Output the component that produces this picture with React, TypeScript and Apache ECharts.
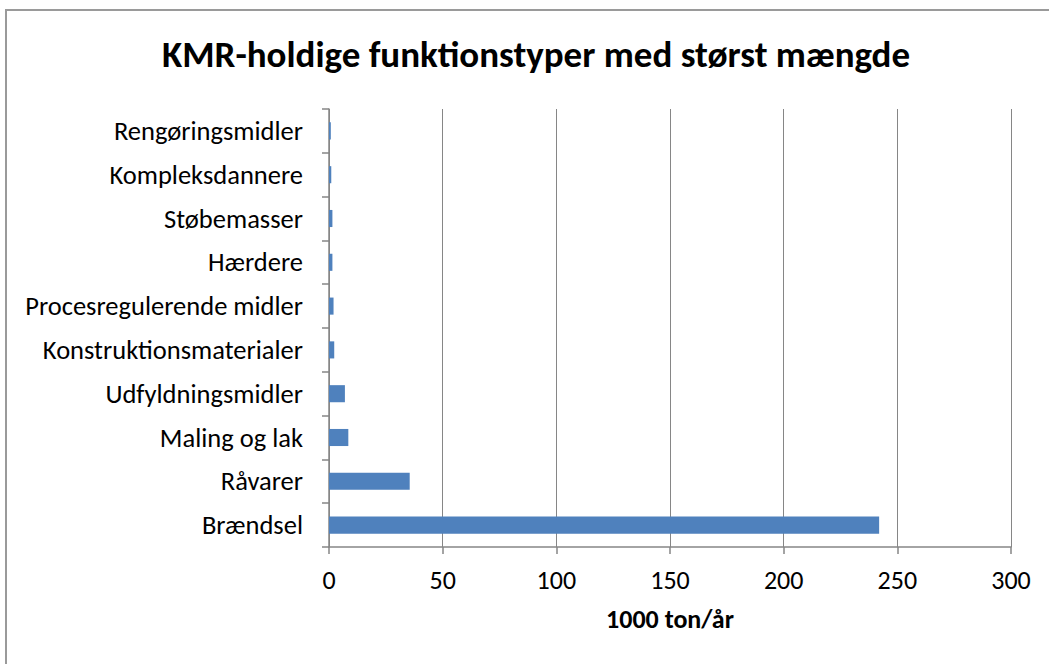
import React, { useEffect, useRef } from "react";
import * as echarts from "echarts";

const categories = [
  "Brændsel",
  "Råvarer",
  "Maling og lak",
  "Udfyldningsmidler",
  "Konstruktionsmaterialer",
  "Procesregulerende midler",
  "Hærdere",
  "Støbemasser",
  "Kompleksdannere",
  "Rengøringsmidler",
];
const values = [242, 35.5, 8.5, 7.0, 2.3, 2.0, 1.5, 1.5, 1.0, 0.8];
const title = "KMR-holdige funktionstyper med størst mængde";
const xName = "1000 ton/år";

export default function App() {
  const ref = useRef<HTMLDivElement>(null);
  useEffect(() => {
    const chart = echarts.init(ref.current!, null, { renderer: "svg" });
    const font = "Carlito, Lato, 'Open Sans', sans-serif";
    chart.setOption({
      animation: false,
      backgroundColor: "transparent",
      title: {
        text: title,
        left: 157,
        top: 31,
        textStyle: { fontFamily: font, fontSize: 37, fontWeight: "bold", color: "#000" },
      },
      grid: { left: 329, right: 38, top: 109, bottom: 117 },
      xAxis: {
        type: "value",
        min: 0,
        max: 300,
        interval: 50,
        name: xName,
        nameLocation: "middle",
        nameGap: 59,
        nameTextStyle: { fontFamily: font, fontSize: 26, fontWeight: "bold", color: "#000" },
        axisLine: { show: true, lineStyle: { color: "#868686", width: 1.5 } },
        axisTick: { show: true, length: 7, lineStyle: { color: "#868686", width: 1.5 } },
        axisLabel: { fontFamily: font, fontSize: 26, color: "#000", margin: 20 },
        splitLine: { show: true, lineStyle: { color: "#868686", width: 1 } },
      },
      yAxis: {
        type: "category",
        data: categories,
        axisLine: { show: true, lineStyle: { color: "#868686", width: 1.5 } },
        axisTick: { show: true, length: 7, lineStyle: { color: "#868686", width: 1.5 } },
        axisLabel: { fontFamily: font, fontSize: 26.5, color: "#000", margin: 26 },
      },
      series: [
        {
          type: "bar",
          data: values,
          barCategoryGap: "61%",
          itemStyle: { color: "#4f81bd" },
        },
      ],
    });
    return () => chart.dispose();
  }, []);
  return (
    <div
      style={{
        position: "fixed",
        left: 0,
        top: 0,
        width: 1049,
        height: 664,
        overflow: "hidden",
        background: "#ffffff",
      }}
    >
      <div
        style={{
          position: "absolute",
          left: 5,
          top: 9,
          width: 1200,
          height: 800,
          borderTop: "2px solid #9a9a9a",
          borderLeft: "2px solid #9a9a9a",
        }}
      />
      <div
        ref={ref}
        style={{ position: "absolute", left: 0, top: 0, width: 1049, height: 664 }}
      />
    </div>
  );
}
